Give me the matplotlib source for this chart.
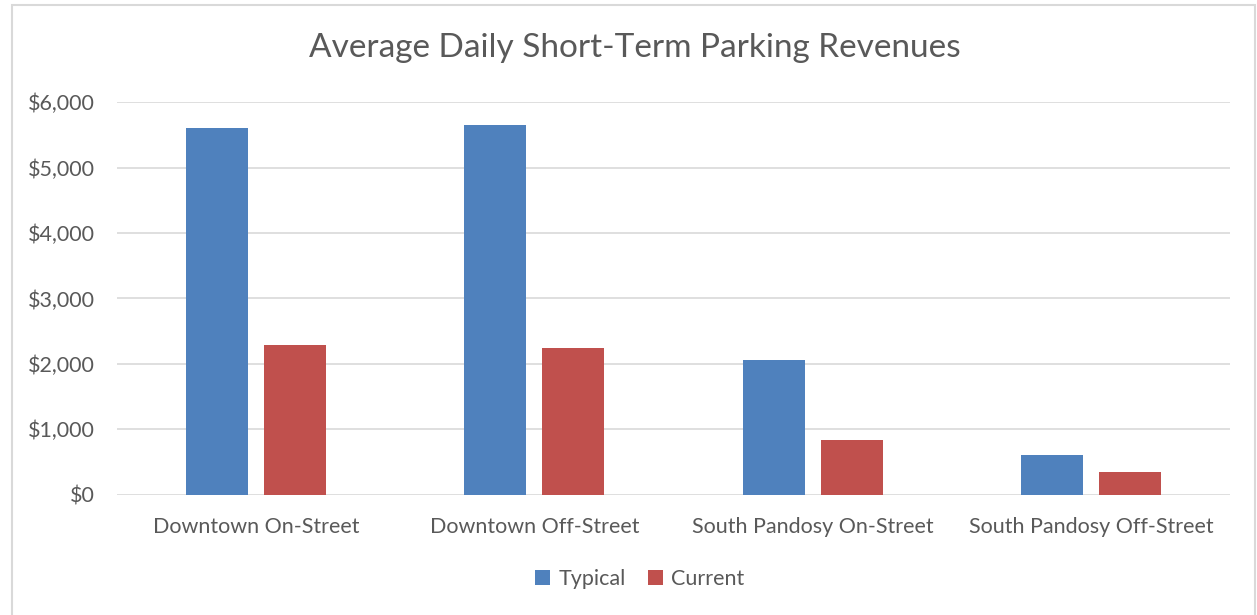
import matplotlib
matplotlib.use("Agg")
import matplotlib.pyplot as plt
import numpy as np
from matplotlib.patches import Rectangle

categories = ["Downtown On-Street", "Downtown Off-Street",
              "South Pandosy On-Street", "South Pandosy Off-Street"]
typical = [5600, 5660, 2065, 610]
current = [2285, 2235, 840, 350]
yticks = [0, 1000, 2000, 3000, 4000, 5000, 6000]

plt.rcParams['font.family'] = ['Lato', 'DejaVu Sans']
txt = '#595959'

fig = plt.figure(figsize=(12.57, 6.15), dpi=100)
ax = fig.add_axes([117/1257, 1-494.5/615, (1230-117)/1257, (494.5-102.3)/615])

x = np.arange(len(categories))
w = 0.223
ax.bar(x - 0.14, typical, w, color='#4F81BD', label='Typical', zorder=3)
ax.bar(x + 0.14, current, w, color='#C0504D', label='Current', zorder=3)

ax.set_xlim(-0.5, len(categories) - 0.5)
ax.set_ylim(0, 6000)
ax.set_yticks(yticks)
ax.set_yticklabels(['${:,}'.format(v) for v in yticks], fontsize=15.5, color=txt)
ax.set_xticks(x)
ax.set_xticklabels(categories, fontsize=15.5, color=txt)
ax.tick_params(axis='x', length=0, pad=16)
ax.tick_params(axis='y', length=0, pad=16)
ax.grid(axis='y', color='#D9D9D9', linewidth=1.2, zorder=0)
for s in ax.spines.values():
    s.set_visible(False)

fig.text(635/1257, 1-48/615, 'Average Daily Short-Term Parking Revenues',
         ha='center', va='center', fontsize=24, color=txt)

fig.legend(loc='center', bbox_to_anchor=(640/1257, 1-579/615), ncol=2, frameon=False,
           fontsize=15.5, handlelength=0.7, handleheight=0.7, columnspacing=1.0,
           handletextpad=0.4, labelcolor=txt)

fig.patches.append(Rectangle((12/1257, -0.05), (1255-12)/1257, 1-5/615 + 0.05,
                             transform=fig.transFigure, fill=False,
                             edgecolor='#D9D9D9', linewidth=1.5))

fig.savefig('out.png', dpi=100)
